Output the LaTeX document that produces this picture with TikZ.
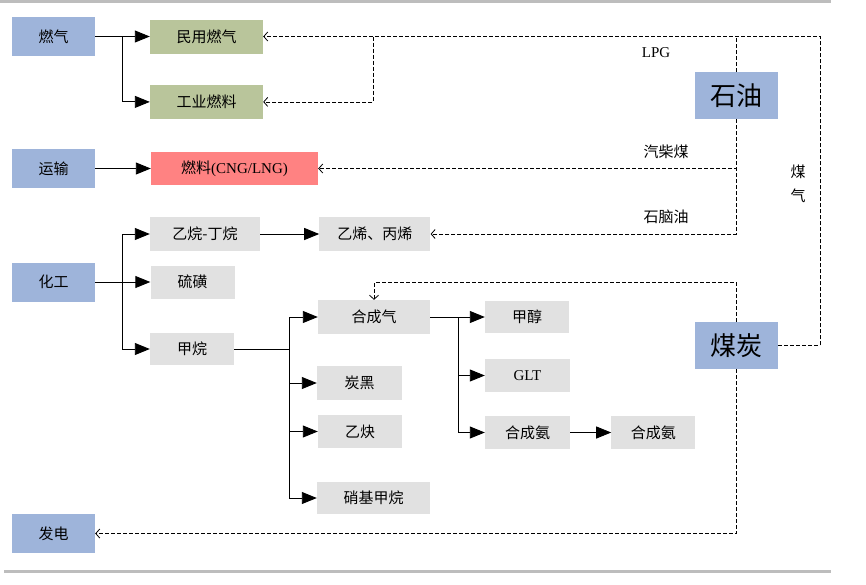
\documentclass[tikz,border=0pt]{standalone}
\usepackage{fontspec}
\setmainfont{Noto Sans CJK SC}
\newfontfamily\latinfont{Liberation Serif}
\usetikzlibrary{arrows.meta,positioning}

\definecolor{srcblue}{HTML}{9EB4DA}
\definecolor{usegreen}{HTML}{B9C59B}
\definecolor{fuelred}{HTML}{FF8282}
\definecolor{prodgrey}{HTML}{E1E1E1}
\definecolor{rulegrey}{HTML}{BDBDBD}

\tikzset{
  box/.style = {inner sep=0pt, font=\fontsize{15}{18}\selectfont},
  srcbox/.style = {box, fill=srcblue, minimum width=83pt, minimum height=39pt},
  bigbox/.style = {fill=srcblue, inner sep=0pt, minimum width=83pt, minimum height=47pt,
                   font=\fontsize{26}{30}\selectfont},
  usebox/.style = {box, fill=usegreen, minimum width=113pt, minimum height=34pt},
  greybox/.style = {box, fill=prodgrey, minimum width=84pt, minimum height=33pt},
  widebox/.style = {greybox, minimum width=112pt, minimum height=34pt},
  tag/.style = {inner sep=0pt, font=\fontsize{15}{24}\selectfont},
  flow/.style = {-{Triangle[length=15pt,width=12pt]}, line width=0.9pt},
  feed/.style = {-{Straight Barb[length=4pt,width=9pt]}, line width=0.8pt,
                 dash pattern=on 4pt off 2pt},
}

\begin{document}
\begin{tikzpicture}[x=1pt, y=-1pt]
  \useasboundingbox (0,0) rectangle (866,584);
  \draw[rulegrey, line width=3pt] (0,1.5) -- (831,1.5);
  \draw[rulegrey, line width=3pt] (4,571.5) -- (831,571.5);

  \node[srcbox] (gas) at (53.5,36.5) {燃气};
  \node[usebox] (civil) at (206.5,36.5) {民用燃气};
  \node[usebox, below=31pt of civil] (indus) {工业燃料};

  \node[srcbox] (trans) at (53.5,168.5) {运输};
  \node[box, fill=fuelred, minimum width=167pt, minimum height=33pt] (cng) at (234.5,168.5)
    {燃料\latinfont(CNG/LNG)};

  \node[bigbox] (oil) at (736.5,95.5) {石油};
  \node[bigbox] (coal) at (736.5,345.5) {煤炭};

  \node[srcbox] (chem) at (53.5,282) {化工};
  \node[widebox, minimum width=110pt] (ethane) at (205,234) {乙烷-丁烷};
  \node[widebox, minimum width=111pt, right=59pt of ethane] (olefin) {乙烯、丙烯};
  \node[greybox] (sulfur) at (192.5,282) {硫磺};
  \node[greybox, minimum height=32pt] (methane) at (192,349) {甲烷};

  \node[widebox] (syngas) at (374,317) {合成气};
  \node[greybox, minimum width=85pt, minimum height=34pt] (carbon) at (359.5,383) {炭黑};
  \node[greybox] (acet) at (360,431.5) {乙炔};
  \node[widebox, minimum width=113pt, minimum height=32pt] (nitro) at (373.5,498) {硝基甲烷};

  \node[greybox, minimum height=32pt] (methanol) at (527,317) {甲醇};
  \node[greybox, minimum width=85pt] (glt) at (527.5,375.5) {\latinfont GLT};
  \node[greybox, minimum width=85pt] (ammo) at (527.5,432.5) {合成氨};
  \node[greybox, right=41pt of ammo] (ammo2) {合成氨};

  \node[srcbox] (power) at (53.5,533.5) {发电};

  \node[tag] (lpg) at (656,53) {\latinfont LPG};
  \node[tag] (diesel) at (666,152) {汽柴煤};
  \node[tag] (naph) at (666,217) {石脑油};
  \node[tag, align=center] (cgas) at (798,184) {煤\\气};

  \coordinate (gj) at (122,36.5);
  \coordinate (cj) at (122,282);
  \coordinate (mj) at (289,349);
  \coordinate (sj) at (458,317);
  \coordinate (ne) at (820,36.5);
  \coordinate (gb) at (373,36.5);

  \draw[flow] (gas.east) -- (civil.west);
  \draw[flow] (gj) |- (indus.west);
  \draw[flow] (trans.east) -- (cng.west);

  \draw[flow] (chem.east) -- (sulfur.west);
  \draw[flow] (cj) |- (ethane.west);
  \draw[flow] (cj) |- (methane.west);
  \draw[flow] (ethane.east) -- (olefin.west);

  \draw[line width=0.9pt] (methane.east) -- (mj);
  \draw[flow] (mj) |- (syngas.west);
  \draw[flow] (mj) |- (carbon.west);
  \draw[flow] (mj) |- (acet.west);
  \draw[flow] (mj) |- (nitro.west);

  \draw[flow] (syngas.east) -- (methanol.west);
  \draw[flow] (sj) |- (glt.west);
  \draw[flow] (sj) |- (ammo.west);
  \draw[flow] (ammo.east) -- (ammo2.west);

  \draw[feed] (coal.east) -| (ne) -- (civil.east);
  \draw[feed] (gb) |- (indus.east);
  \draw[feed, -] (oil.north) -- (oil.north |- ne);
  \draw[feed] (oil.south) |- (cng.east);
  \draw[feed] (oil.south) |- (olefin.east);
  \draw[feed] (coal.north) |- ([yshift=17pt]syngas.north) -- (syngas.north);
  \draw[feed] (coal.south) |- (power.east);
\end{tikzpicture}
\end{document}
